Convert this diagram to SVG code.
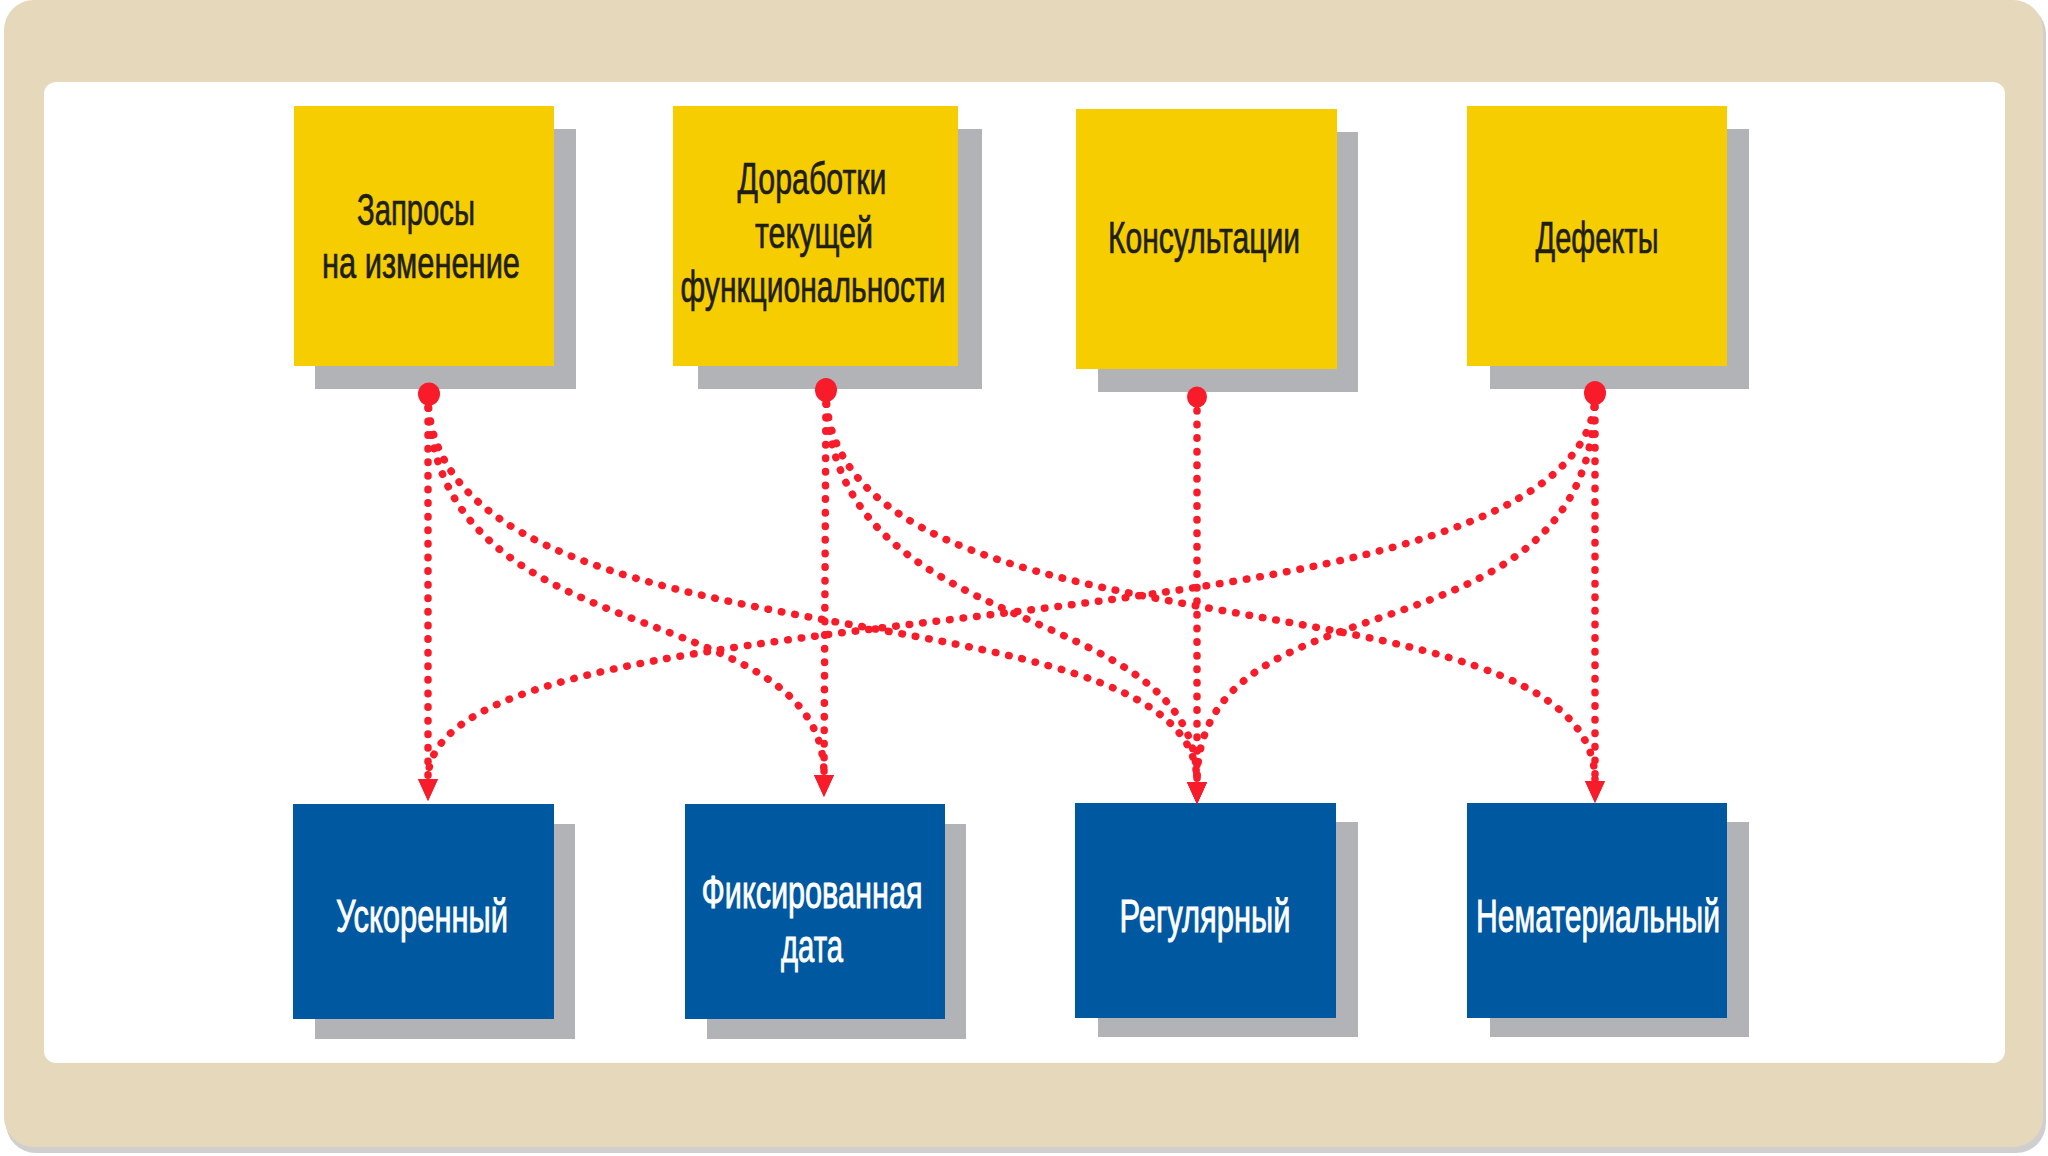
<svg xmlns="http://www.w3.org/2000/svg" width="2048" height="1156" viewBox="0 0 2048 1156">
<style>
.frame{fill:#E5D8BB}
.panel{fill:#FFFFFF}
.shadow{fill:#B2B3B7}
.src{fill:#F5CD00}
.dst{fill:#0058A0}
.t{font-family:"Liberation Sans","DejaVu Sans",Arial,sans-serif;font-size:45px;text-anchor:middle}
.tb{fill:#1E1E14;stroke:#1E1E14;stroke-width:0.7}
.tw{fill:#FFFFFF;stroke:#FFFFFF;stroke-width:0.9;font-size:47px}
.con{fill:none;stroke:#F81C2A;stroke-width:7.5;stroke-linecap:round;stroke-dasharray:0.5 13.1}
.dot{fill:#F81C2A}
</style>
<defs>
<marker id="arr" viewBox="0 -12 24 24" refX="0" refY="0" markerWidth="24" markerHeight="24" markerUnits="userSpaceOnUse" orient="auto">
<path d="M0,-10 L22,0 L0,10 Z" fill="#F81C2A"/>
</marker>
</defs>
<rect x="6" y="4" width="2040" height="1149" rx="30" fill="#CFCFCF"/>
<rect class="frame" x="4" y="0" width="2039" height="1147" rx="30"/>
<rect class="panel" x="44" y="82" width="1961" height="981" rx="12"/>

<g id="n-zaprosy">
<rect class="shadow" x="315" y="129" width="261" height="260"/>
<rect class="src" x="294" y="106" width="260" height="260"/>
<text class="t tb" x="416" y="225" textLength="118" lengthAdjust="spacingAndGlyphs">Запросы</text>
<text class="t tb" x="421" y="278" textLength="198" lengthAdjust="spacingAndGlyphs">на изменение</text>
</g>
<g id="n-dorabotki">
<rect class="shadow" x="698" y="129" width="284" height="260"/>
<rect class="src" x="673" y="106" width="285" height="260"/>
<text class="t tb" x="812" y="194" textLength="149" lengthAdjust="spacingAndGlyphs">Доработки</text>
<text class="t tb" x="814" y="248" textLength="118" lengthAdjust="spacingAndGlyphs">текущей</text>
<text class="t tb" x="813" y="302" textLength="265" lengthAdjust="spacingAndGlyphs">функциональности</text>
</g>
<g id="n-konsult">
<rect class="shadow" x="1098" y="132" width="260" height="260"/>
<rect class="src" x="1076" y="109" width="261" height="260"/>
<text class="t tb" x="1204" y="253" textLength="192" lengthAdjust="spacingAndGlyphs">Консультации</text>
</g>
<g id="n-defekty">
<rect class="shadow" x="1490" y="129" width="259" height="260"/>
<rect class="src" x="1467" y="106" width="260" height="260"/>
<text class="t tb" x="1597" y="253" textLength="123" lengthAdjust="spacingAndGlyphs">Дефекты</text>
</g>

<g id="n-uskor">
<rect class="shadow" x="315" y="824" width="260" height="215"/>
<rect class="dst" x="293" y="804" width="261" height="215"/>
<text class="t tw" x="422" y="932" textLength="172" lengthAdjust="spacingAndGlyphs">Ускоренный</text>
</g>
<g id="n-fiks">
<rect class="shadow" x="707" y="824" width="259" height="215"/>
<rect class="dst" x="685" y="804" width="260" height="215"/>
<text class="t tw" x="812" y="908" textLength="221" lengthAdjust="spacingAndGlyphs">Фиксированная</text>
<text class="t tw" x="812" y="962" textLength="62" lengthAdjust="spacingAndGlyphs">дата</text>
</g>
<g id="n-regul">
<rect class="shadow" x="1098" y="822" width="260" height="215"/>
<rect class="dst" x="1075" y="803" width="261" height="215"/>
<text class="t tw" x="1205" y="932" textLength="171" lengthAdjust="spacingAndGlyphs">Регулярный</text>
</g>
<g id="n-nemat">
<rect class="shadow" x="1490" y="822" width="259" height="215"/>
<rect class="dst" x="1467" y="803" width="260" height="215"/>
<text class="t tw" x="1598" y="932" textLength="244" lengthAdjust="spacingAndGlyphs">Нематериальный</text>
</g>

<g id="connectors">
<path class="con" marker-end="url(#arr)" d="M428,394 L428,779"/>
<path class="con" marker-end="url(#arr)" d="M428,394 C428,663 824,590 824,775"/>
<path class="con" marker-end="url(#arr)" d="M428,394 C428,680 1197,575 1197,782"/>
<path class="con" marker-end="url(#arr)" d="M826,390 L824,775"/>
<path class="con" marker-end="url(#arr)" d="M826,390 C826,650 1197,592 1197,782"/>
<path class="con" marker-end="url(#arr)" d="M826,390 C826,674 1595,558 1595,781"/>
<path class="con" marker-end="url(#arr)" d="M1197,397 L1197,782"/>
<path class="con" marker-end="url(#arr)" d="M1595,393 L1595,781"/>
<path class="con" marker-end="url(#arr)" d="M1595,393 C1595,676 1197,565 1197,782"/>
<path class="con" marker-end="url(#arr)" d="M1595,393 C1595,672 428,570 428,779"/>
<ellipse class="dot" cx="429" cy="394" rx="11" ry="11.5"/>
<ellipse class="dot" cx="826" cy="390" rx="11" ry="12"/>
<ellipse class="dot" cx="1197" cy="397" rx="10" ry="10.5"/>
<ellipse class="dot" cx="1595" cy="393" rx="11" ry="12"/>
</g>
</svg>
